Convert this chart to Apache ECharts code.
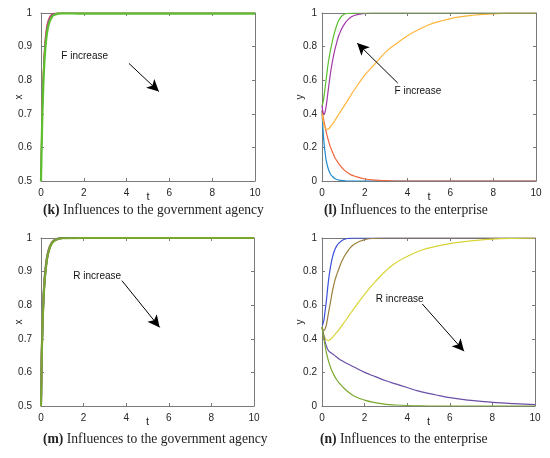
<!DOCTYPE html>
<html><head><meta charset="utf-8">
<script src="https://cdn.jsdelivr.net/npm/echarts@6/dist/echarts.min.js"></script>
<style>html,body{margin:0;padding:0;background:#fff}#c{width:550px;height:458px}</style>
</head><body><div id="c"></div>
<script>
// ---- Panel (k): government agency, F varies ----
const tK = [0,0.02,0.05,0.1,0.15,0.2,0.25,0.3,0.4,0.5,0.6,0.8,1,2,10];
const kBlue   = [0.5,0.58,0.67,0.78,0.855,0.9,0.93,0.952,0.977,0.989,0.995,0.999,1,1,1];
const kRed    = [0.5,0.6,0.7,0.81,0.88,0.925,0.952,0.97,0.988,0.996,0.999,1,1,1,1];
const kYellow = [0.5,0.59,0.68,0.795,0.865,0.91,0.94,0.96,0.982,0.992,0.997,1,1,1,1];
const kPurple = [0.5,0.595,0.69,0.8,0.872,0.918,0.946,0.965,0.985,0.994,0.998,1,1,1,1];
const kGreen  = [0.5,0.57,0.66,0.77,0.845,0.893,0.925,0.948,0.974,0.987,0.994,0.998,0.999,0.998,0.998];

// ---- Panel (l): enterprise, F varies ----
const tL = [0,0.05,0.1,0.15,0.2,0.3,0.4,0.5,0.6,0.7,0.8,1,1.25,1.5,2,2.5,3,3.5,4,4.5,5,5.5,6,6.5,7,8,9,10];
const lBlue   = [0.42,0.3,0.22,0.165,0.12,0.07,0.04,0.025,0.015,0.009,0.005,0.002,0,0,0,0,0,0,0,0,0,0,0,0,0,0,0,0];
const lOrange = [0.42,0.385,0.35,0.32,0.29,0.24,0.2,0.17,0.14,0.12,0.1,0.07,0.045,0.03,0.012,0.005,0.002,0,0,0,0,0,0,0,0,0,0,0];
const lYellow = [0.4,0.36,0.33,0.315,0.308,0.31,0.325,0.34,0.36,0.38,0.4,0.44,0.49,0.54,0.63,0.7,0.77,0.82,0.865,0.9,0.93,0.95,0.967,0.978,0.986,0.995,0.999,1];
const lPurple = [0.45,0.41,0.4,0.415,0.45,0.55,0.645,0.72,0.78,0.83,0.87,0.925,0.965,0.985,0.997,1,1,1,1,1,1,1,1,1,1,1,1,1];
const lGreen  = [0.45,0.47,0.51,0.56,0.61,0.71,0.78,0.84,0.89,0.93,0.96,0.99,0.998,1,1,1,1,1,1,1,1,1,1,1,1,1,1,1];

// ---- Panel (m): government agency, R varies ----
const tM = [0,0.02,0.05,0.1,0.15,0.2,0.25,0.3,0.4,0.5,0.6,0.8,1,2,10];
const mBlue   = [0.5,0.6,0.7,0.8,0.862,0.9,0.928,0.947,0.972,0.985,0.992,0.998,1,1,1];
const mBrown  = [0.5,0.59,0.69,0.79,0.855,0.895,0.924,0.944,0.97,0.984,0.991,0.997,1,1,1];
const mYellow = [0.5,0.61,0.71,0.805,0.866,0.905,0.932,0.95,0.974,0.986,0.993,0.998,1,1,1];
const mPurple = [0.5,0.595,0.695,0.795,0.858,0.898,0.926,0.946,0.971,0.984,0.992,0.998,1,1,1];
const mGreen  = [0.5,0.58,0.68,0.785,0.85,0.89,0.92,0.942,0.968,0.983,0.99,0.997,0.999,1,1];

// ---- Panel (n): enterprise, R varies ----
const tN = [0,0.05,0.1,0.15,0.2,0.3,0.4,0.5,0.6,0.7,0.8,1,1.25,1.5,2,2.5,3,3.5,4,4.5,5,5.5,6,6.5,7,8,9,10];
const nBlue   = [0.48,0.49,0.52,0.57,0.62,0.74,0.83,0.89,0.93,0.955,0.97,0.99,0.998,1,1,1,1,1,1,1,1,1,1,1,1,1,1,1];
const nBrown  = [0.47,0.455,0.45,0.46,0.48,0.55,0.62,0.69,0.745,0.785,0.82,0.88,0.93,0.962,0.99,0.998,1,1,1,1,1,1,1,1,1,1,1,1];
const nYellow = [0.47,0.44,0.42,0.403,0.395,0.39,0.397,0.41,0.425,0.44,0.455,0.49,0.535,0.58,0.665,0.74,0.805,0.855,0.89,0.92,0.94,0.955,0.967,0.976,0.983,0.993,0.998,1];
const nPurple = [0.47,0.44,0.41,0.38,0.36,0.33,0.318,0.31,0.3,0.29,0.28,0.265,0.248,0.232,0.2,0.175,0.15,0.13,0.11,0.09,0.075,0.062,0.05,0.041,0.033,0.022,0.014,0.008];
const nGreen  = [0.47,0.43,0.39,0.355,0.32,0.27,0.23,0.2,0.175,0.155,0.137,0.11,0.082,0.06,0.035,0.02,0.01,0.006,0.003,0.001,0,0,0,0,0,0,0,0];

// annotations [tailT, tailY, tipT, tipY], text centre [t, y]
const kArrow = [4.11,0.85,5.51,0.766]; const kText = [2.04,0.872]; const kLabel = 'F increase';
const lArrow = [3.54,0.583,1.64,0.821]; const lText = [4.48,0.536]; const lLabel = 'F increase';
const mArrow = [3.8,0.873,5.57,0.734]; const mText = [2.64,0.886]; const mLabel = 'R increase';
const nArrow = [4.71,0.607,6.67,0.326]; const nText = [3.65,0.637]; const nLabel = 'R increase';

const captions = [
  ['k','Influences to the government agency'],
  ['l','Influences to the enterprise'],
  ['m','Influences to the government agency'],
  ['n','Influences to the enterprise']
];

const colF = ['#1f8ccc','#f0643a','#ffb43a','#a23aa8','#5cbf2e'];
const colR = ['#3b4fd8','#9b7f3b','#d9d436','#6a4fa8','#7aa82e'];

const grids = [
  {left:41, top:13, width:214, height:168},
  {left:322, top:13, width:214, height:168},
  {left:41, top:238, width:213, height:168},
  {left:322, top:238, width:213, height:168}
];
const yRanges = [[0.5,1,0.1,'x'],[0,1,0.2,'y'],[0.5,1,0.1,'x'],[0,1,0.2,'y']];

const axisColor = '#7a7a7a';
const labelStyle = {color:'#262626', fontSize:10, fontFamily:'Liberation Sans, Arial, sans-serif'};
const xAxis = [], yAxis = [];
grids.forEach((g,i)=>{
  const [ymin,ymax,yint,yname] = yRanges[i];
  xAxis.push({type:'value', gridIndex:i, min:0, max:10, interval:2, position:'bottom',
    name:'t', nameLocation:'middle', nameGap:10, nameMoveOverlap:false, nameTextStyle:{...labelStyle, fontSize:11},
    axisLine:{show:true, onZero:false, lineStyle:{color:axisColor,width:1}},
    axisTick:{show:true, inside:true, length:3, lineStyle:{color:axisColor}},
    axisLabel:{...labelStyle, margin:7}, splitLine:{show:false}});
  xAxis.push({type:'value', gridIndex:i, min:0, max:10, interval:2, position:'top',
    axisLine:{show:true, onZero:false, lineStyle:{color:axisColor,width:1}},
    axisTick:{show:true, inside:true, length:3, lineStyle:{color:axisColor}},
    axisLabel:{show:false}, splitLine:{show:false}});
  yAxis.push({type:'value', gridIndex:i, min:ymin, max:ymax, interval:yint, position:'left',
    name:yname, nameLocation:'middle', nameGap:17, nameRotate:90, nameMoveOverlap:false, nameTextStyle:labelStyle,
    axisLine:{show:true, onZero:false, lineStyle:{color:axisColor,width:1}},
    axisTick:{show:true, inside:true, length:3, lineStyle:{color:axisColor}},
    axisLabel:{...labelStyle, margin:(i%2===0?9:5), formatter:v=>String(Math.round(v*10)/10)}, splitLine:{show:false}});
  yAxis.push({type:'value', gridIndex:i, min:ymin, max:ymax, interval:yint, position:'right',
    axisLine:{show:true, onZero:false, lineStyle:{color:axisColor,width:1}},
    axisTick:{show:true, inside:true, length:3, lineStyle:{color:axisColor}},
    axisLabel:{show:false}, splitLine:{show:false}});
});

function pairs(t, v){ return t.map((x,i)=>[x, v[i]]); }
const series = [];
function addPanel(idx, t, arrs, cols, width, arrow, textPos, label){
  arrs.forEach((a,j)=>{
    const s = {type:'line', xAxisIndex:idx*2, yAxisIndex:idx*2, data:pairs(t,a),
      showSymbol:false, smooth:0.5, clip:true,
      lineStyle:{color:cols[j], width: (Array.isArray(width)? width[j] : width)}, z:2+j};
    if (j===arrs.length-1){
      s.markLine = {silent:true, symbol:['none','arrow'], symbolSize:[9,12], animation:false,
        lineStyle:{color:'#000', width:1, type:'solid'}, label:{show:false},
        data:[[{coord:[arrow[0],arrow[1]]},{coord:[arrow[2],arrow[3]]}]]};
      s.markPoint = {silent:true, symbol:'circle', symbolSize:0, animation:false,
        label:{show:true, position:'inside', formatter:label, color:'#111', fontSize:10, fontFamily:'Liberation Sans, Arial, sans-serif'},
        data:[{coord:textPos}]};
    }
    series.push(s);
  });
}
addPanel(0, tK, [kBlue,kRed,kYellow,kPurple,kGreen], colF, [1.2,1.2,1.2,1.2,2.2], kArrow, kText, kLabel);
addPanel(1, tL, [lBlue,lOrange,lYellow,lPurple,lGreen], colF, 1.2, lArrow, lText, lLabel);
addPanel(2, tM, [mBlue,mBrown,mYellow,mPurple,mGreen], colR, 2, mArrow, mText, mLabel);
addPanel(3, tN, [nBlue,nBrown,nYellow,nPurple,nGreen], colR, 1.2, nArrow, nText, nLabel);

const capPos = [[43,212],[324,212],[43,441],[320,441]];
const graphic = captions.map((c,i)=>({type:'text', left:capPos[i][0], top:capPos[i][1]-9,
  style:{text:'{b|('+c[0]+')} '+c[1], fill:'#222', font:'13.6px "Liberation Serif", serif',
    rich:{b:{fontWeight:'bold', fontSize:13.6, fontFamily:'Liberation Serif', fill:'#222'}}}}));

const chart = echarts.init(document.getElementById('c'), null, {renderer:'canvas'});
chart.setOption({animation:false, backgroundColor:'#fff', grid:grids, xAxis, yAxis, series, graphic});
</script></body></html>
